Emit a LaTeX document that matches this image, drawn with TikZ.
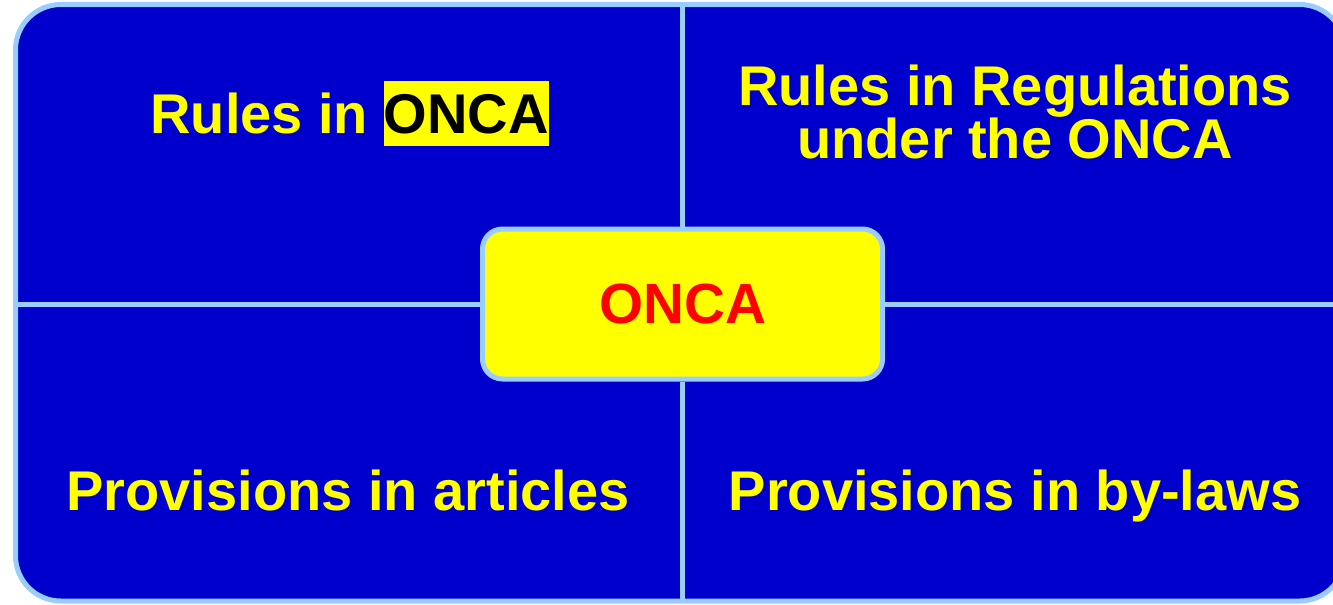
\documentclass[tikz,border=0pt]{standalone}
\usepackage{fontspec}
\setmainfont{Liberation Sans}
\usetikzlibrary{positioning}
\definecolor{oncablue}{RGB}{0,0,204}
\definecolor{edgeblue}{RGB}{153,204,255}
\definecolor{oncayellow}{RGB}{255,255,0}
\definecolor{oncared}{RGB}{255,0,0}
\tikzset{
	panel/.style={draw=edgeblue, line width=3.75pt, fill=oncablue, rounded corners=34pt},
	divider/.style={draw=edgeblue, line width=3.75pt},
	quad/.style={text=oncayellow, font=\bfseries\fontsize{42}{40}\selectfont, anchor=base, inner sep=0pt},
	hub/.style={draw=edgeblue, line width=3.75pt, fill=oncayellow, rounded corners=15pt,
		minimum width=300pt, minimum height=112.5pt, text=oncared,
		font=\bfseries\fontsize{42.5}{40}\selectfont}
}
\newcommand{\hilite}[1]{{\fboxsep=0pt\colorbox{oncayellow}{\rule[-9.5pt]{0pt}{48.7pt}\color{black}#1}}}

\begin{document}
\begin{tikzpicture}[x=0.75pt, y=-0.75pt]
			%%%%% START %%%%%
			\useasboundingbox (0, 0) rectangle (1333, 604);
			\clip (0, 0) rectangle (1333, 604);
			
			\draw[panel] (15.5, 4.5) rectangle (1345, 601);
			
			\coordinate (topmid) at (682, 4.5);
			\coordinate (botmid) at (682, 601);
			\coordinate (leftmid) at (15.5, 304.5);
			\coordinate (rightmid) at (1345, 304.5);
			
			\node[hub] (onca) at (682.5, 304) {ONCA};
			\draw[divider] (onca.north -| topmid) -- (topmid);
			\draw[divider] (onca.south -| botmid) -- (botmid);
			\draw[divider] (onca.west |- leftmid) -- (leftmid);
			\draw[divider] (onca.east |- rightmid) -- (rightmid);
			
			\node[quad] (rulesact) at (349.5, 133.3) {Rules in \hilite{ONCA}};
			\node[quad] (rulesreg) at (1015, 105) {Rules in Regulations};
			\node[quad] (rulesreg2) at (1015, 158) {under the ONCA};
			\node[quad] (articles) at (348, 510) {Provisions in articles};
			\node[quad] (bylaws) at (1015, 510) {Provisions in by-laws};
			
			%%%%% END %%%%%
\end{tikzpicture}
\end{document}
